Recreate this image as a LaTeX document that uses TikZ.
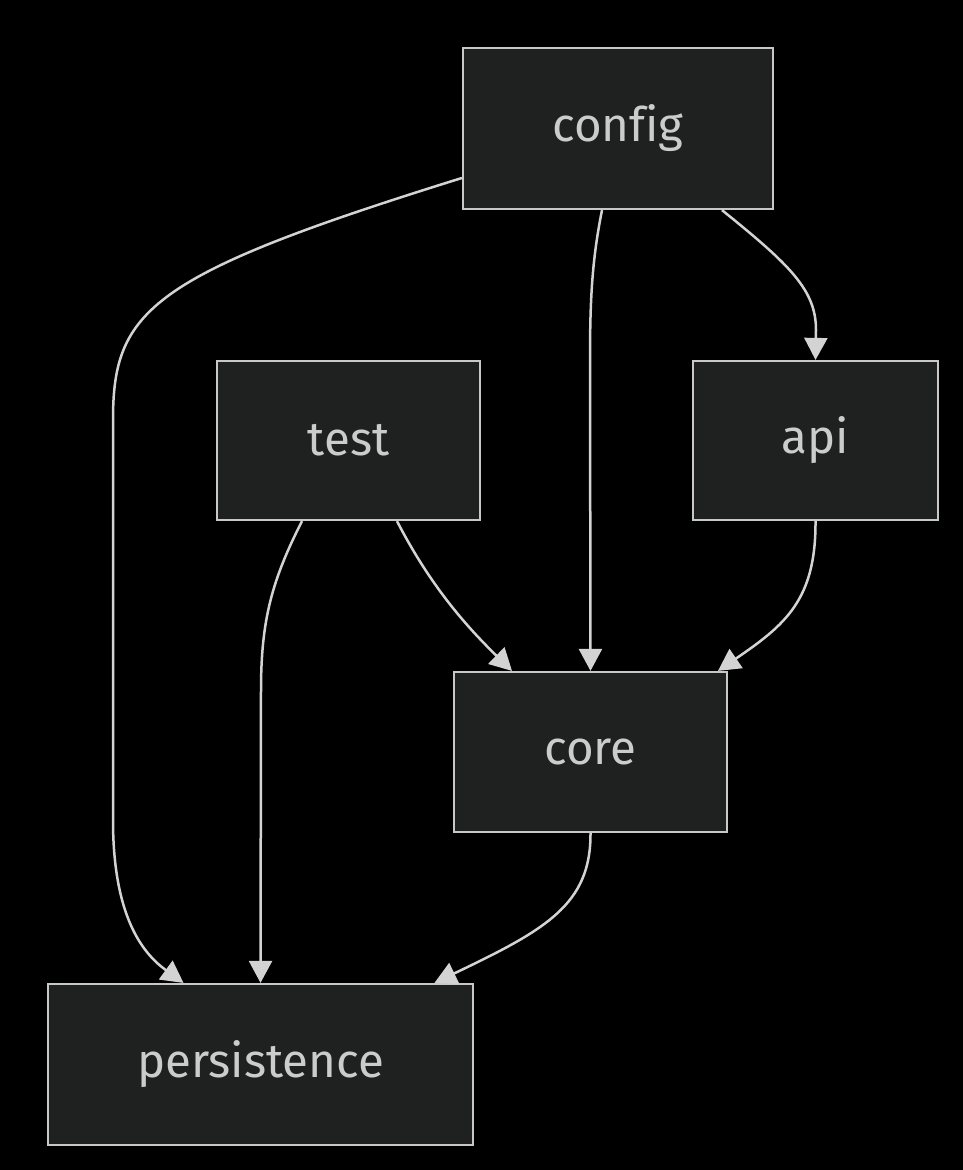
\documentclass[tikz,border=0pt]{standalone}
\usepackage{fontspec}
\setmainfont[Ligatures=CommonOff]{Fira Sans}
\usepackage{tikz}
\usetikzlibrary{arrows.meta,positioning,calc}
\definecolor{boxfill}{HTML}{1F2121}
\definecolor{boxline}{HTML}{C8C8C8}
\definecolor{boxtext}{HTML}{CCCCCC}
\definecolor{depline}{HTML}{D3D3D3}

\begin{document}
\begin{tikzpicture}[x=0.02cm, y=-0.02cm,
	box/.style={draw=boxline, fill=boxfill, line width=0.045cm, text=boxtext,
		font=\fontsize{27}{32}\selectfont, inner sep=0pt},
	dep/.style={draw=depline, line width=0.05cm,
		-{Triangle[length=0.44cm, width=0.46cm]}}]
		\fill[black] (0, 0) rectangle (963, 1170);
		\useasboundingbox (0, 0) rectangle (963, 1170);
\node[box, minimum width=6.2cm, minimum height=3.22cm] (config) at (618, 128.5) {config};
\node[box, minimum width=5.26cm, minimum height=3.18cm] (test) at (348.5, 440.5) {test};
\node[box, minimum width=4.9cm, minimum height=3.18cm] (api) at (815.5, 440.5) {api};
\node[box, minimum width=5.46cm, minimum height=3.2cm] (core) at (590.5, 752) {core};
\node[box, minimum width=8.5cm, minimum height=3.22cm] (persistence) at (260.5, 1064.5) {persistence};
\draw[dep] ([yshift=-0.99cm]config.west) .. controls (150, 275) and (113, 310) .. (113, 420)
	-- (113, 820) .. controls (113, 920) and (145, 955) .. ([xshift=-1.54cm]persistence.north);
\draw[dep] ([xshift=-0.32cm]config.south) .. controls (592, 260) and (590, 300) .. (590, 360)
	-- (core.north);
\draw[dep] ([xshift=2.08cm]config.south) .. controls (790, 265) and (816, 290) .. (816, 330)
	-- (api.north);
\draw[dep] ([xshift=0.97cm]test.south) .. controls (430, 585) and (465, 625) .. ([xshift=-1.57cm]core.north);
\draw[dep] ([xshift=-0.93cm]test.south) .. controls (272, 580) and (261, 620) .. (261, 690)
	-- (persistence.north);
\draw[dep] (api.south) .. controls (816, 600) and (785, 625) .. ([xshift=2.55cm]core.north);
\draw[dep] (core.south) .. controls (591, 905) and (545, 930) .. ([xshift=3.48cm]persistence.north);
\end{tikzpicture}
\end{document}
